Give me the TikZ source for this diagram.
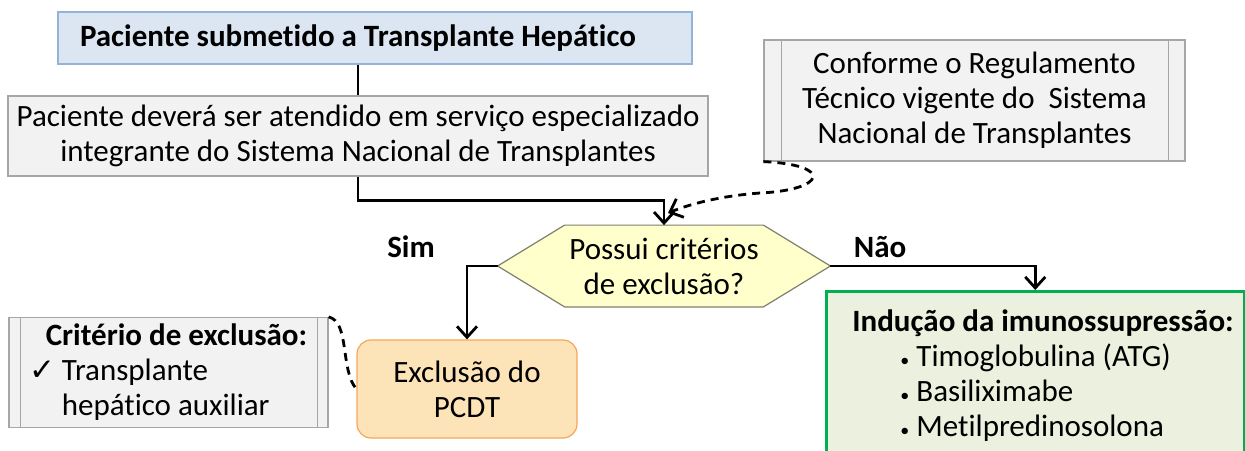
\documentclass[tikz,border=0pt]{standalone}
\usepackage{fontspec}
\setmainfont{Carlito}[Ligatures=NoCommon]
\newfontfamily\symfont{DejaVu Sans}
\usetikzlibrary{arrows.meta,positioning,backgrounds}
\definecolor{toplight}{HTML}{DCE6F2}
\definecolor{topblue}{HTML}{95B3D7}
\definecolor{grayfill}{HTML}{F2F2F2}
\definecolor{grayline}{HTML}{A6A6A6}
\definecolor{hexfill}{HTML}{FFFFCC}
\definecolor{hexline}{HTML}{7F7F6F}
\definecolor{excfill}{HTML}{FDE4B8}
\definecolor{excline}{HTML}{F5A65A}
\definecolor{indfill}{HTML}{EBF1DE}
\definecolor{indline}{HTML}{00B050}
\tikzset{
  every node/.style={font=\fontsize{15.5}{17.5}\selectfont},
  topbox/.style={draw=topblue,fill=toplight,line width=1pt,minimum height=26pt,
    inner xsep=11pt,font=\fontsize{15.5}{17.5}\selectfont\bfseries},
  graybox/.style={draw=grayline,fill=grayfill,line width=0.6pt,align=center},
  flow/.style={line width=1.4pt},
  tip/.style={-{Straight Barb[length=5.5pt,width=10pt]}},
  note/.style={line width=1.4pt,dash pattern=on 4pt off 3pt}
}
\newcommand{\bul}{\hspace*{24pt}\makebox[8pt][l]{\small•}}
\begin{document}
\begin{tikzpicture}[x=0.5pt,y=-0.5pt]
\useasboundingbox (0,0) rectangle (1245,450);
% boxes
\node[topbox] (pac) at (375,38) {\makebox[295pt][l]{Paciente submetido a Transplante Hepático}};
\node[graybox,minimum width=350pt,minimum height=40pt] (atend) at (358,136)
  {Paciente deverá ser atendido em serviço especializado\\integrante do Sistema Nacional de Transplantes};
\node[graybox,minimum width=210.5pt,minimum height=60.5pt] (conf) at (974.5,100.5)
  {Conforme o Regulamento\\Técnico vigente do\ \ Sistema\\Nacional de Transplantes};
\draw[grayline,line width=0.6pt] ([xshift=9pt]conf.north west) -- ([xshift=9pt]conf.south west);
\draw[grayline,line width=0.6pt] ([xshift=-8.5pt]conf.north east) -- ([xshift=-8.5pt]conf.south east);
\node[minimum width=166pt,minimum height=40.5pt,inner sep=0pt,align=center] (hex) at (664,266)
  {Possui critérios\\de exclusão?};
\begin{scope}[on background layer]
\draw[draw=hexline,fill=hexfill,line width=0.6pt] (hex.west) -- ([xshift=33.5pt]hex.north west)
  -- ([xshift=-33.5pt]hex.north east) -- (hex.east) -- ([xshift=-33.5pt]hex.south east)
  -- ([xshift=33.5pt]hex.south west) -- cycle;
\end{scope}
\node[font=\fontsize{15.5}{17.5}\selectfont\bfseries] (sim) at (411,247) {Sim};
\node[font=\fontsize{15.5}{17.5}\selectfont\bfseries] (nao) at (880,247) {Não};
\node[draw=excline,fill=excfill,line width=0.6pt,rounded corners=7pt,minimum width=110pt,
  minimum height=49pt,align=center] (exc) at (467,389) {Exclusão do\\PCDT};
\node[graybox,minimum width=159.5pt,minimum height=50.5pt,align=left] (crit) at (168.5,372.5)
  {\hspace*{8pt}\textbf{Critério de exclusão:}\\\makebox[16pt][l]{\symfont ✓}Transplante\\\hspace*{16pt}hepático auxiliar};
\draw[grayline,line width=0.6pt] ([xshift=6pt]crit.north west) -- ([xshift=6pt]crit.south west);
\draw[grayline,line width=0.6pt] ([xshift=-5.5pt]crit.north east) -- ([xshift=-5.5pt]crit.south east);
\node[draw=indline,fill=indfill,line width=1.25pt,minimum width=209pt,minimum height=95pt,
  anchor=north west] (ind) at (825,290) {};
\node[anchor=north west,align=left,inner sep=0pt] (indtxt) at (852,309)
  {\textbf{Indução da imunossupressão:}\\\bul Timoglobulina (ATG)\\
   \bul Basiliximabe\\\bul Metilpredinosolona};
% connectors
\coordinate (hexin) at (668,213);
\draw[flow] (pac.south -| atend.north) -- (atend.north);
\draw[flow,tip] (atend.south) -- ++(0,24) -| (hex.north);
\draw[flow,tip] (hex.west) -| (exc.north);
\draw[flow,tip] (hex.east) -| (ind.north);
\draw[note,tip] (conf.south west) .. controls (835,165) and (825,190) .. (760,193)
  .. controls (720,196) and (690,204) .. (hexin);
\draw[note] (crit.north east) .. controls (350,322) and (340,370) .. (exc.west);
\end{tikzpicture}
\end{document}
